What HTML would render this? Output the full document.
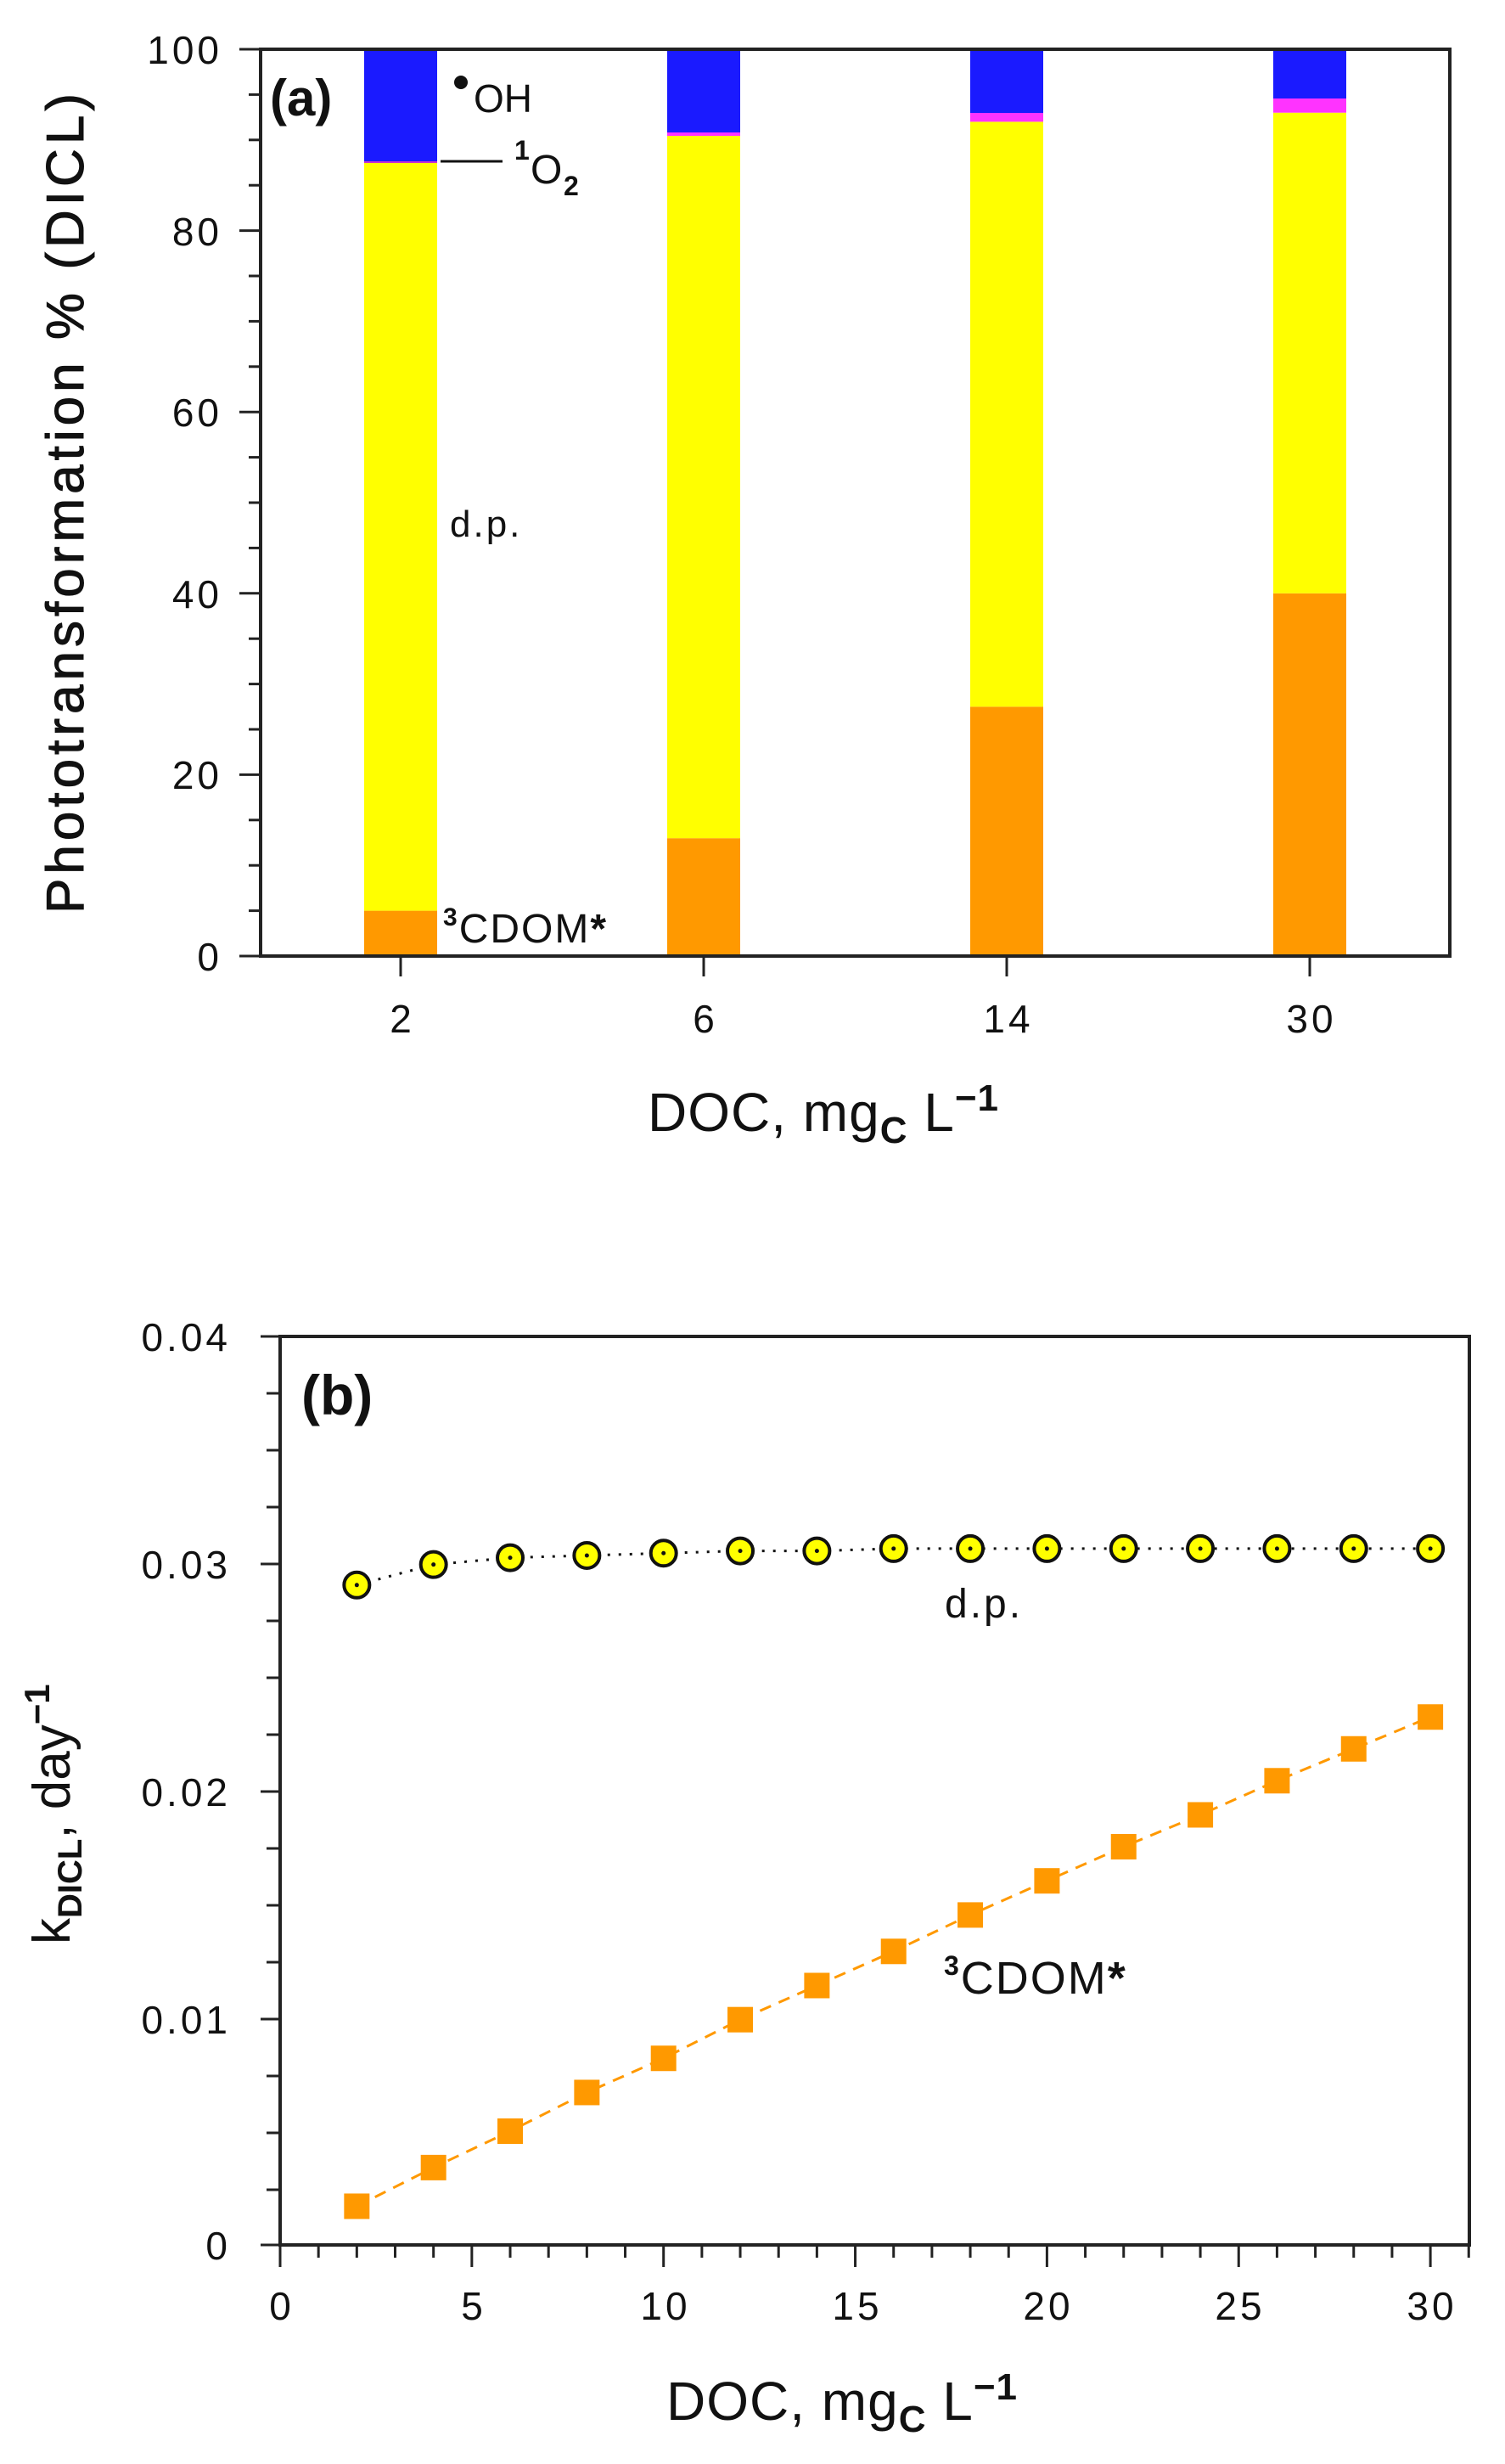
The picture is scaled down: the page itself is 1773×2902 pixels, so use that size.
<!DOCTYPE html>
<html><head><meta charset="utf-8"><style>body{margin:0;background:#fff}svg{display:block}text{font-family:"Liberation Sans",sans-serif;fill:#111}</style></head>
<body>
<svg width="1773" height="2902" viewBox="0 0 1773 2902" xmlns="http://www.w3.org/2000/svg">
<g>
<rect x="429" y="1072.6" width="86" height="53.4" fill="#ff9900"/>
<rect x="429" y="191.5" width="86" height="881.1" fill="#ffff00"/>
<rect x="429" y="189" width="86" height="3" fill="#cc33cc"/>
<rect x="429" y="58" width="86" height="132" fill="#1a1aff"/>
<rect x="786" y="987.2" width="86" height="138.8" fill="#ff9900"/>
<rect x="786" y="159.5" width="86" height="827.7" fill="#ffff00"/>
<rect x="786" y="155" width="86" height="5" fill="#ff33ff"/>
<rect x="786" y="58" width="86" height="98" fill="#1a1aff"/>
<rect x="1143" y="832.3" width="86" height="293.7" fill="#ff9900"/>
<rect x="1143" y="143.4" width="86" height="688.9" fill="#ffff00"/>
<rect x="1143" y="132.8" width="86" height="10.6" fill="#ff33ff"/>
<rect x="1143" y="58" width="86" height="75" fill="#1a1aff"/>
<rect x="1500" y="698.8" width="86" height="427.2" fill="#ff9900"/>
<rect x="1500" y="132.7" width="86" height="566.1" fill="#ffff00"/>
<rect x="1500" y="115.6" width="86" height="17.1" fill="#ff33ff"/>
<rect x="1500" y="58" width="86" height="58" fill="#1a1aff"/>
<rect x="307" y="58" width="1401" height="1068" fill="none" stroke="#222" stroke-width="4"/>
<g stroke="#222" stroke-width="3">
<line x1="282" y1="58" x2="307" y2="58"/><line x1="293" y1="111.4" x2="307" y2="111.4"/>
<line x1="282" y1="271.6" x2="307" y2="271.6"/><line x1="293" y1="164.8" x2="307" y2="164.8"/>
<line x1="293" y1="218.2" x2="307" y2="218.2"/><line x1="293" y1="325" x2="307" y2="325"/>
<line x1="293" y1="378.4" x2="307" y2="378.4"/><line x1="282" y1="485.2" x2="307" y2="485.2"/>
<line x1="293" y1="431.8" x2="307" y2="431.8"/><line x1="293" y1="538.6" x2="307" y2="538.6"/>
<line x1="293" y1="592" x2="307" y2="592"/><line x1="293" y1="645.4" x2="307" y2="645.4"/>
<line x1="282" y1="698.8" x2="307" y2="698.8"/><line x1="293" y1="752.2" x2="307" y2="752.2"/>
<line x1="293" y1="805.6" x2="307" y2="805.6"/><line x1="293" y1="859" x2="307" y2="859"/>
<line x1="282" y1="912.4" x2="307" y2="912.4"/><line x1="293" y1="965.8" x2="307" y2="965.8"/>
<line x1="293" y1="1019.2" x2="307" y2="1019.2"/><line x1="293" y1="1072.6" x2="307" y2="1072.6"/>
<line x1="282" y1="1126" x2="307" y2="1126"/>
<line x1="472" y1="1126" x2="472" y2="1150"/><line x1="829" y1="1126" x2="829" y2="1150"/>
<line x1="1186" y1="1126" x2="1186" y2="1150"/><line x1="1543" y1="1126" x2="1543" y2="1150"/>
</g>
<g font-size="46" text-anchor="end" letter-spacing="4">
<text x="262" y="75">100</text><text x="262" y="289">80</text><text x="262" y="502">60</text>
<text x="262" y="716">40</text><text x="262" y="929">20</text><text x="262" y="1143">0</text>
</g>
<g font-size="46" text-anchor="middle" letter-spacing="4">
<text x="474" y="1216">2</text><text x="831" y="1216">6</text><text x="1188" y="1216">14</text><text x="1545" y="1216">30</text>
</g>
<text x="763" y="1332" font-size="64" letter-spacing="1">DOC, mg<tspan font-size="44" dy="14" font-weight="bold">C</tspan><tspan dy="-14">  L</tspan><tspan font-size="44" dy="-24" font-weight="bold">−1</tspan></text>
<text transform="translate(98,1076) rotate(-90)" font-size="62" textLength="966" lengthAdjust="spacing" stroke="#111" stroke-width="1">Phototransformation % (DICL)</text>
<text x="318" y="136" font-size="60" font-weight="bold">(a)</text>
<circle cx="543" cy="97" r="8" fill="#111"/>
<text x="558" y="132" font-size="46">OH</text>
<line x1="519" y1="190" x2="592" y2="190" stroke="#111" stroke-width="3"/>
<text x="606" y="188" font-size="32" font-weight="bold">1</text>
<text x="625" y="216" font-size="48">O</text>
<text x="664" y="230" font-size="32" font-weight="bold">2</text>
<text x="530" y="632" font-size="44" letter-spacing="3">d.p.</text>
<text x="522" y="1110" font-size="48" letter-spacing="2"><tspan font-size="30" dy="-20" font-weight="bold">3</tspan><tspan dy="20">CDOM</tspan><tspan font-weight="bold">*</tspan></text>
</g>

<g>
<rect x="330" y="1574" width="1401" height="1070" fill="none" stroke="#222" stroke-width="4"/>
<g stroke="#222" stroke-width="3">
<line x1="307" y1="1574" x2="330" y2="1574"/><line x1="314" y1="1641" x2="330" y2="1641"/><line x1="314" y1="1708" x2="330" y2="1708"/><line x1="314" y1="1775" x2="330" y2="1775"/>
<line x1="307" y1="1842" x2="330" y2="1842"/><line x1="314" y1="1909" x2="330" y2="1909"/><line x1="314" y1="1976" x2="330" y2="1976"/><line x1="314" y1="2043" x2="330" y2="2043"/>
<line x1="307" y1="2110" x2="330" y2="2110"/><line x1="314" y1="2177" x2="330" y2="2177"/><line x1="314" y1="2244" x2="330" y2="2244"/><line x1="314" y1="2311" x2="330" y2="2311"/>
<line x1="307" y1="2378" x2="330" y2="2378"/><line x1="314" y1="2445" x2="330" y2="2445"/><line x1="314" y1="2512" x2="330" y2="2512"/><line x1="314" y1="2579" x2="330" y2="2579"/>
<line x1="307" y1="2644" x2="330" y2="2644"/>
</g>
<g stroke="#222" stroke-width="3" id="xt"></g>
<g font-size="46" text-anchor="end" letter-spacing="4">
<text x="272" y="1591">0.04</text><text x="272" y="1859">0.03</text><text x="272" y="2127">0.02</text><text x="272" y="2395">0.01</text><text x="272" y="2661">0</text>
</g>
<g font-size="46" text-anchor="middle" letter-spacing="4">
<text x="332" y="2732">0</text><text x="558" y="2732">5</text><text x="784" y="2732">10</text><text x="1010" y="2732">15</text><text x="1235" y="2732">20</text><text x="1461" y="2732">25</text><text x="1687" y="2732">30</text>
</g>
<text x="785" y="2850" font-size="64" letter-spacing="1">DOC, mg<tspan font-size="44" dy="14" font-weight="bold">C</tspan><tspan dy="-14">  L</tspan><tspan font-size="44" dy="-24" font-weight="bold">−1</tspan></text>
<text transform="translate(82,2290) rotate(-90)" font-size="62">k<tspan font-size="40" dy="14" font-weight="bold">DICL</tspan><tspan dy="-14">,  day</tspan><tspan font-size="42" dy="-24" font-weight="bold">−1</tspan></text>
<text x="355" y="1666" font-size="66" font-weight="bold">(b)</text>
<text x="1113" y="1905" font-size="48" letter-spacing="3">d.p.</text>
<text x="1112" y="2348" font-size="54" letter-spacing="2"><tspan font-size="32" dy="-22" font-weight="bold">3</tspan><tspan dy="22">CDOM</tspan><tspan font-weight="bold">*</tspan></text>
<g id="series"></g>
</g>
</svg>
<script>
(function(){
var ns="http://www.w3.org/2000/svg";
function el(t,a,p){var e=document.createElementNS(ns,t);for(var k in a)e.setAttribute(k,a[k]);p.appendChild(e);return e;}
var xt=document.getElementById("xt");
for(var i=0;i<=31;i++){var x=330+i*45.17;var L=(i%5==0)?26:15;el("line",{x1:x,y1:2644,x2:x,y2:2644+L},xt);}
var X=function(v){return 330+v*45.17},Y=function(v){return 2644-v*26800};
var dp=[0.0290,0.0299,0.0302,0.0303,0.0304,0.0305,0.0305,0.0306,0.0306,0.0306,0.0306,0.0306,0.0306,0.0306,0.0306];
var cd=[0.0017,0.0034,0.0050,0.0067,0.0082,0.0099,0.0114,0.0129,0.0145,0.0160,0.0175,0.0189,0.0204,0.0218,0.0232];
var s=document.getElementById("series");
var p1="",p2="";
for(var i=0;i<15;i++){var x=X(2+2*i);p1+=(i?"L":"M")+x+","+Y(dp[i]);p2+=(i?"L":"M")+x+","+Y(cd[i]);}
el("path",{d:p2,fill:"none",stroke:"#ff9900","stroke-width":3,"stroke-dasharray":"14,10"},s);
el("path",{d:p1,fill:"none",stroke:"#111","stroke-width":3,"stroke-dasharray":"3,10"},s);
for(var i=0;i<15;i++){var x=X(2+2*i);
el("rect",{x:x-15,y:Y(cd[i])-15,width:30,height:30,fill:"#ff9900"},s);
el("circle",{cx:x,cy:Y(dp[i]),r:15,fill:"#ffff00",stroke:"#111","stroke-width":4},s);
el("circle",{cx:x,cy:Y(dp[i]),r:2.5,fill:"#111"},s);}
})();
</script>
</body></html>
